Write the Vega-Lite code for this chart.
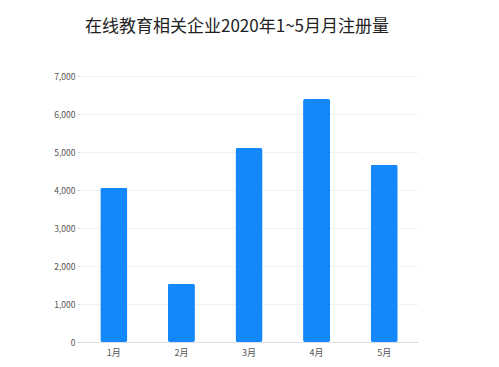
{
  "$schema": "https://vega.github.io/schema/vega-lite/v6.json",
  "autosize": "none",
  "width": 338,
  "height": 266,
  "padding": {"left": 80, "top": 76, "right": 81, "bottom": 25},
  "background": "white",
  "title": {
    "text": "在线教育相关企业2020年1~5月月注册量",
    "font": "Noto Sans CJK SC",
    "fontSize": 17,
    "fontWeight": "normal",
    "color": "#222222",
    "anchor": "middle",
    "dx": -12,
    "offset": 36
  },
  "data": {
    "values": [
      {"month": "1月", "count": 4060},
      {"month": "2月", "count": 1530},
      {"month": "3月", "count": 5105},
      {"month": "4月", "count": 6395},
      {"month": "5月", "count": 4665}
    ]
  },
  "mark": {"type": "bar", "color": "#1487fb", "cornerRadius": 2},
  "encoding": {
    "x": {
      "field": "month",
      "type": "nominal",
      "sort": null,
      "scale": {"paddingInner": 0.6, "paddingOuter": 0.3},
      "axis": {
        "title": null,
        "labelAngle": 0,
        "labelFont": "Noto Sans CJK SC",
        "labelFontSize": 9,
        "labelColor": "#555555",
        "ticks": false,
        "labelPadding": 6,
        "domainColor": "#dddddd"
      }
    },
    "y": {
      "field": "count",
      "type": "quantitative",
      "scale": {"domain": [0, 7000]},
      "axis": {
        "title": null,
        "values": [0, 1000, 2000, 3000, 4000, 5000, 6000, 7000],
        "format": ",d",
        "labelFont": "Noto Sans CJK SC",
        "labelFontSize": 8.5,
        "labelColor": "#555555",
        "tickColor": "#dddddd",
        "tickSize": 3,
        "labelPadding": 2,
        "domain": false,
        "gridColor": "#f2f2f2"
      }
    }
  },
  "config": {"view": {"stroke": null}}
}
